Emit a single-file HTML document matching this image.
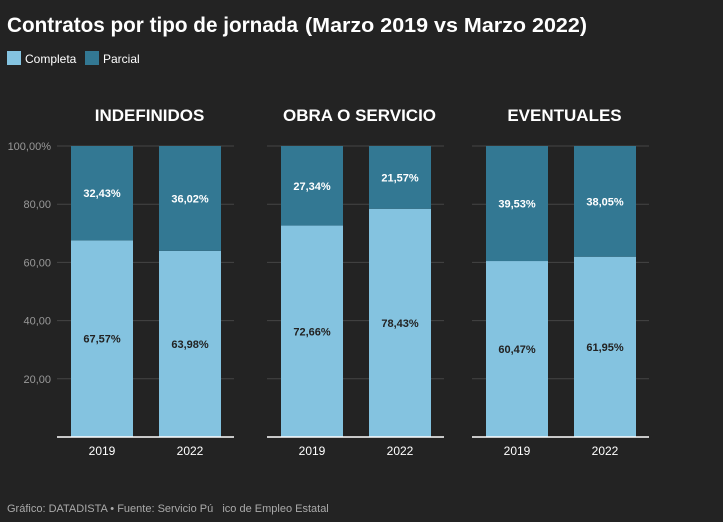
<!DOCTYPE html>
<html><head><meta charset="utf-8"><style>
body{margin:0;background:#232323;width:723px;height:517px;overflow:hidden;font-family:"Liberation Sans",sans-serif}
</style></head><body>
<svg width="723" height="517" xmlns="http://www.w3.org/2000/svg" id="svg">
<text x="7" y="32" fill="#fff" font-size="21" font-weight="bold" textLength="291" lengthAdjust="spacingAndGlyphs">Contratos por tipo de jornada</text>
<text x="305" y="32" fill="#fff" font-size="20" font-weight="bold" textLength="282" lengthAdjust="spacingAndGlyphs">(Marzo 2019 vs Marzo 2022)</text>
<rect x="7" y="51" width="14" height="14" fill="#84c3e0"/>
<text x="25" y="63" fill="#fff" font-size="12">Completa</text>
<rect x="85" y="51" width="14" height="14" fill="#337893"/>
<text x="103" y="63" fill="#fff" font-size="12">Parcial</text>
<text x="7" y="512" fill="#aaa" font-size="11">Gráfico: DATADISTA • Fuente: Servicio Pú&#160;&#160;&#160;ico de Empleo Estatal</text>
<g id="plot"></g>
</svg>
<script>
const panels=["INDEFINIDOS","OBRA O SERVICIO","EVENTUALES"];
const years=["2019","2022"];
const completa=[[67.57,63.98],[72.66,78.43],[60.47,61.95]];
const parcial=[[32.43,36.02],[27.34,21.57],[39.53,38.05]];
const yTicks=[20,40,60,80,100];
const yTickLabels=["20,00","40,00","60,00","80,00","100,00%"];
const NS="http://www.w3.org/2000/svg";
const g=document.getElementById('plot');
const top0=146,bot=437;
const y=v=>bot-(bot-top0)*v/100;
const panelX=[57,267,472],panelW=177;
function mk(t,a,txt){const e=document.createElementNS(NS,t);for(const k in a)e.setAttribute(k,a[k]);if(txt!=null)e.textContent=txt;g.appendChild(e);return e;}
const fmt=v=>v.toFixed(2).replace('.',',')+'%';
yTicks.forEach((t,i)=>{
  const l=mk('text',{x:51,y:y(t)+4,fill:'#999','font-size':11,'text-anchor':'end'},yTickLabels[i]);
  
  
});
panels.forEach((p,pi)=>{
  const x0=panelX[pi];
  yTicks.forEach(t=>{
    const gl=mk('line',{x1:x0,x2:x0+panelW,y1:y(t),y2:y(t),stroke:'#444','stroke-width':1});
    
    
  });
  const tt=mk('text',{x:x0+panelW/2+4,y:121,fill:'#fff','font-size':17,'font-weight':'bold','text-anchor':'middle'},p);
  
  
  years.forEach((yr,yi)=>{
    const bx=x0+14+yi*88,bw=62;
    const c=completa[pi][yi],q=parcial[pi][yi];
    const r1=mk('rect',{x:bx,y:y(c),width:bw,height:bot-y(c),fill:'#84c3e0'});
    
    
    const r2=mk('rect',{x:bx,y:y(c+q),width:bw,height:y(c)-y(c+q),fill:'#337893'});
    
    
    const l1=mk('text',{x:bx+bw/2,y:(y(c)+bot)/2+4,fill:'#222','font-size':11,'font-weight':'bold','text-anchor':'middle'},fmt(c));
    
    
    const l2=mk('text',{x:bx+bw/2,y:(y(c)+y(c+q))/2+4,fill:'#fff','font-size':11,'font-weight':'bold','text-anchor':'middle'},fmt(q));
    
    
    const xl=mk('text',{x:bx+bw/2,y:455,fill:'#fff','font-size':12,'text-anchor':'middle'},yr);
    
    
  });
  const ax=mk('line',{x1:x0,x2:x0+panelW,y1:bot,y2:bot,stroke:'#fff','stroke-width':1.5});
  
  
});
</script>
</body></html>
